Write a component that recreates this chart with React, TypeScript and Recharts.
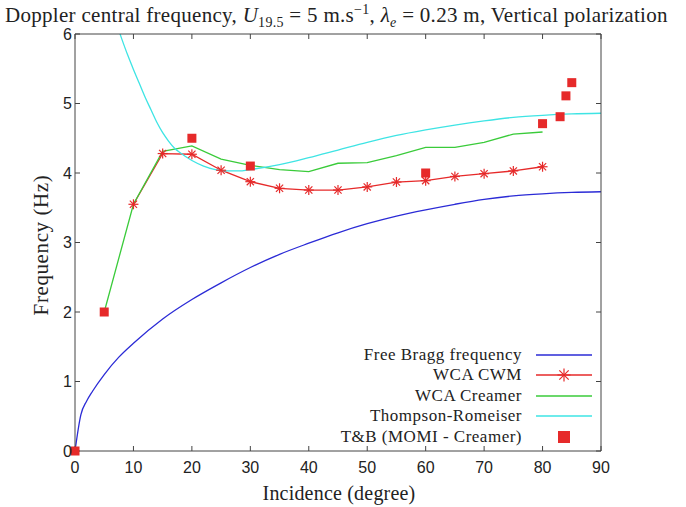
import React from "react";
import { ComposedChart, Line, Scatter, XAxis, YAxis, Legend } from "recharts";

// incidence (deg) / frequency (Hz)
const braggAngle = [0, 1, 2, 3, 5, 7.5, 10, 15, 20, 25, 30, 35, 40, 45, 50, 55, 60, 65, 70, 75, 80, 85, 90];
const braggFreq = [0, 0.52, 0.72, 0.86, 1.1, 1.35, 1.55, 1.9, 2.18, 2.42, 2.64, 2.83, 2.99, 3.14, 3.27, 3.38, 3.47, 3.55, 3.62, 3.67, 3.7, 3.72, 3.73];

const cwmAngle = [10, 15, 20, 25, 30, 35, 40, 45, 50, 55, 60, 65, 70, 75, 80];
const cwmFreq = [3.55, 4.28, 4.27, 4.04, 3.875, 3.78, 3.755, 3.755, 3.8, 3.87, 3.89, 3.95, 3.99, 4.03, 4.09];

const creamerAngle = [5, 10, 15, 20, 25, 30, 35, 40, 45, 50, 55, 60, 65, 70, 75, 80];
const creamerFreq = [2.0, 3.55, 4.31, 4.39, 4.2, 4.11, 4.05, 4.02, 4.14, 4.15, 4.25, 4.37, 4.37, 4.44, 4.56, 4.59];

const trAngle = [7, 8, 9, 10, 11, 12, 13, 14, 15, 16, 17, 18, 20, 22, 24, 26, 28, 30, 35, 40, 45, 50, 55, 60, 65, 70, 75, 80, 85, 90];
const trFreq = [6.17, 5.93, 5.7, 5.49, 5.29, 5.09, 4.91, 4.73, 4.58, 4.46, 4.36, 4.29, 4.18, 4.1, 4.05, 4.03, 4.03, 4.05, 4.12, 4.22, 4.33, 4.44, 4.54, 4.62, 4.69, 4.75, 4.8, 4.83, 4.85, 4.86];

const tbAngle = [0, 5, 20, 30, 60, 80, 83, 84, 85];
const tbFreq = [0, 2.0, 4.5, 4.1, 4.0, 4.71, 4.81, 5.11, 5.3];

const xTicks = [0, 10, 20, 30, 40, 50, 60, 70, 80, 90];
const yTicks = [0, 1, 2, 3, 4, 5, 6];

const legendNames = [
  "Free Bragg frequency",
  "WCA CWM",
  "WCA Creamer",
  "Thompson-Romeiser",
  "T&B (MOMI - Creamer)",
];

const zip = (xs: number[], ys: number[]) => xs.map((x, i) => ({ x, y: ys[i] }));

const BLUE = "#2b2bd6";
const RED = "#e62a2a";
const GREEN = "#3acb3a";
const CYAN = "#3ee4e4";
const SERIF = "'Liberation Serif', 'DejaVu Serif', serif";
const SANS = "'Liberation Sans', Arial, sans-serif";
const AXIS = "#444";

function Star(props: any) {
  const { cx, cy, r = 5 } = props;
  if (cx == null || cy == null) return null;
  const d = r * 0.72;
  return (
    <g stroke={RED} strokeWidth={1.2}>
      <line x1={cx - r} y1={cy} x2={cx + r} y2={cy} />
      <line x1={cx} y1={cy - r} x2={cx} y2={cy + r} />
      <line x1={cx - d} y1={cy - d} x2={cx + d} y2={cy + d} />
      <line x1={cx - d} y1={cy + d} x2={cx + d} y2={cy - d} />
    </g>
  );
}

function Square(props: any) {
  const { cx, cy } = props;
  return <rect x={cx - 4.5} y={cy - 4.5} width={9} height={9} fill={RED} />;
}

function YLabel() {
  return (
    <text x={41} y={245} transform="rotate(-90 41 245)" textAnchor="middle" dominantBaseline="central"
      fontFamily={SERIF} fontSize={21} letterSpacing={0.6} fill="#222">
      Frequency (Hz)
    </text>
  );
}

function XLabel() {
  return (
    <text x={339} y={493} textAnchor="middle" dominantBaseline="central" fontFamily={SERIF} fontSize={20}
      letterSpacing={0.2} fill="#222">
      Incidence (degree)
    </text>
  );
}

const legendColors = [BLUE, RED, GREEN, CYAN, RED];

function LegendBox() {
  return (
    <div style={{ fontFamily: SERIF, fontSize: 17, letterSpacing: 0.5, color: "#222" }}>
      {legendNames.map((name, i) => (
        <div key={name} style={{ display: "flex", alignItems: "center", justifyContent: "flex-end", height: 20.5 }}>
          <span style={{ whiteSpace: "nowrap" }}>{name}</span>
          <svg width={56} height={20} style={{ marginLeft: 14, display: "block" }}>
            {i < 4 && <line x1={0} y1={10} x2={56} y2={10} stroke={legendColors[i]} strokeWidth={1.4} />}
            {i === 1 && <Star cx={28} cy={10} r={6.5} />}
            {i === 4 && <rect x={22} y={4} width={12} height={12} fill={RED} />}
          </svg>
        </div>
      ))}
    </div>
  );
}

export default function App() {
  return (
    <div style={{ position: "absolute", left: 0, top: 0, width: 686, height: 507, background: "#fff" }}>
      <div style={{ position: "absolute", left: 5, top: -3, whiteSpace: "nowrap", fontFamily: SERIF, fontSize: 21, letterSpacing: 0.3, lineHeight: "25px", color: "#222" }}>
        Doppler central frequency, <i>U</i><sub style={{ fontSize: 14 }}>19.5</sub> = 5 m.s<sup style={{ fontSize: 14 }}>−1</sup>, <i>λ</i><sub style={{ fontSize: 14 }}><i>e</i></sub> = 0.23 m, Vertical polarization
      </div>
      <ComposedChart width={686} height={507} margin={{ top: 33, right: 84, bottom: 26, left: 0 }}>
        <XAxis dataKey="x" type="number" domain={[0, 90]} ticks={xTicks} allowDataOverflow
          stroke={AXIS} tickSize={-5} tickMargin={16} height={30}
          tick={{ fontFamily: SANS, fontSize: 16, fill: "#222" }} label={<XLabel />} />
        <XAxis xAxisId="top" dataKey="x" orientation="top" type="number" domain={[0, 90]} ticks={xTicks}
          stroke={AXIS} tickSize={-5} height={1} tickFormatter={() => ""} />
        <YAxis dataKey="y" type="number" domain={[0, 6]} ticks={yTicks} allowDataOverflow
          stroke={AXIS} tickSize={-5} tickMargin={8} width={75}
          tick={{ fontFamily: SANS, fontSize: 16, fill: "#222" }} label={<YLabel />} />
        <YAxis yAxisId="right" dataKey="y" orientation="right" type="number" domain={[0, 6]} ticks={yTicks}
          stroke={AXIS} tickSize={-5} width={1} tickFormatter={() => ""} />
        <Legend layout="vertical" align="center" verticalAlign="middle" content={() => <LegendBox />}
          wrapperStyle={{ position: "absolute", left: 312, top: 344.5, width: 280 }} />
        <Line data={zip(braggAngle, braggFreq)} dataKey="y" type="monotone" stroke={BLUE} strokeWidth={1.3} dot={false} isAnimationActive={false} />
        <Line data={zip(cwmAngle, cwmFreq)} dataKey="y" type="linear" stroke={RED} strokeWidth={1.3}
          dot={(p: any) => <Star key={p.index} cx={p.cx} cy={p.cy} r={5} />} isAnimationActive={false} />
        <Line data={zip(creamerAngle, creamerFreq)} dataKey="y" type="linear" stroke={GREEN} strokeWidth={1.3} dot={false} isAnimationActive={false} />
        <Line data={zip(trAngle, trFreq)} dataKey="y" type="monotone" stroke={CYAN} strokeWidth={1.3} dot={false} isAnimationActive={false} />
        <Scatter data={zip(tbAngle, tbFreq)} dataKey="y" xAxisId="top" yAxisId="right" fill={RED} shape={<Square />} isAnimationActive={false} />
      </ComposedChart>
    </div>
  );
}
